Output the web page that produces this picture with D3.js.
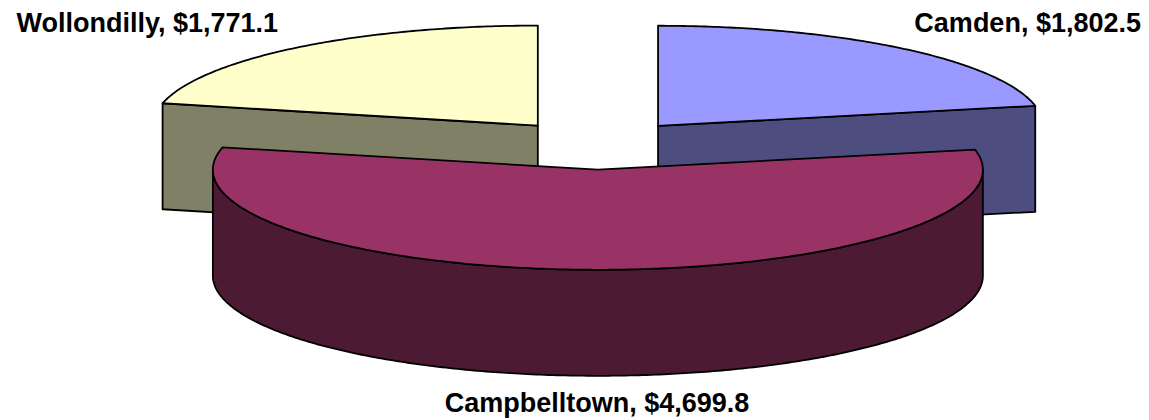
<!DOCTYPE html>
<html>
<head>
<meta charset="utf-8">
<script src="https://cdnjs.cloudflare.com/ajax/libs/d3/7.8.5/d3.min.js"></script>
<style>
  html, body { margin: 0; padding: 0; background: #fff; }
  svg { display: block; }
  text { font-family: "Liberation Sans", Arial, sans-serif; font-weight: bold; font-size: 27px; fill: #000; }
  path { stroke: #000; stroke-width: 1.8px; stroke-linejoin: round; }
</style>
</head>
<body>
<svg width="1149" height="420"></svg>
<script>
// Chart data, clockwise from 12 o'clock
const names = ["Camden", "Campbelltown", "Wollondilly"];
const amounts = [1802.5, 4699.8, 1771.1];
const amountLabels = ["$1,802.5", "$4,699.8", "$1,771.1"];
const topColors = ["#9999ff", "#993366", "#ffffcc"];
const sideColors = ["#4d4d80", "#4d1a33", "#808066"];

// Pie geometry
const cx = 598.5, cy = 145;
const rx = 385, tilt = 0.26, depth = 106;
const explode = 95;
const nudgeX = [-0.5, 0.5, -1.5]; // rounding in the original drawing

const svg = d3.select("svg");
const slices = d3.pie().sort(null)(amounts);

// projects a pie angle (0 = up, clockwise) on to the tilted ellipse
function rim(o, a, r, drop) {
  return [o.x + r * Math.sin(a), o.y - r * tilt * Math.cos(a) + (drop || 0)];
}

function arcPoints(o, a0, a1, drop) {
  const n = Math.ceil(Math.abs(a1 - a0) * 90);
  return d3.range(n + 1).map(function (i) {
    return rim(o, a0 + (a1 - a0) * i / n, rx, drop);
  });
}

const line = d3.line();

slices.forEach(function (d, i) {
  const mid = (d.startAngle + d.endAngle) / 2;
  d.o = {
    x: cx + nudgeX[i] + explode * Math.sin(mid),
    y: cy - explode * tilt * Math.cos(mid)
  };
});

// Back slices first, the big front slice goes over them
[2, 0, 1].forEach(function (i) {
  const d = slices[i];
  const o = d.o;
  const g = svg.append("g");

  if (i === 1) {
    // curved front wall, only the part facing the viewer
    const a0 = Math.max(d.startAngle, Math.PI / 2);
    const a1 = Math.min(d.endAngle, Math.PI * 1.5);
    const wall = arcPoints(o, a0, a1, 0).concat(arcPoints(o, a1, a0, depth));
    g.append("path").attr("d", line(wall) + "Z").attr("fill", sideColors[i]);
  } else {
    // flat cut face towards the front
    const a = i === 0 ? d.endAngle : d.startAngle;
    const p = rim(o, a, rx);
    const face = [[o.x, o.y], p, [p[0], p[1] + depth], [o.x, o.y + depth]];
    g.append("path").attr("d", line(face) + "Z").attr("fill", sideColors[i]);
  }

  const top = [[o.x, o.y]].concat(arcPoints(o, d.startAngle, d.endAngle, 0));
  g.append("path").attr("d", line(top) + "Z").attr("fill", topColors[i]);
});

// Data labels
const labelPos = [
  { x: 1141, y: 32, anchor: "end" },
  { x: 597, y: 412, anchor: "middle" },
  { x: 278, y: 32, anchor: "end" }
];

svg.selectAll("text")
  .data(names)
  .enter()
  .append("text")
  .attr("x", function (d, i) { return labelPos[i].x; })
  .attr("y", function (d, i) { return labelPos[i].y; })
  .attr("text-anchor", function (d, i) { return labelPos[i].anchor; })
  .text(function (d, i) { return d + ", " + amountLabels[i]; });
</script>
</body>
</html>
